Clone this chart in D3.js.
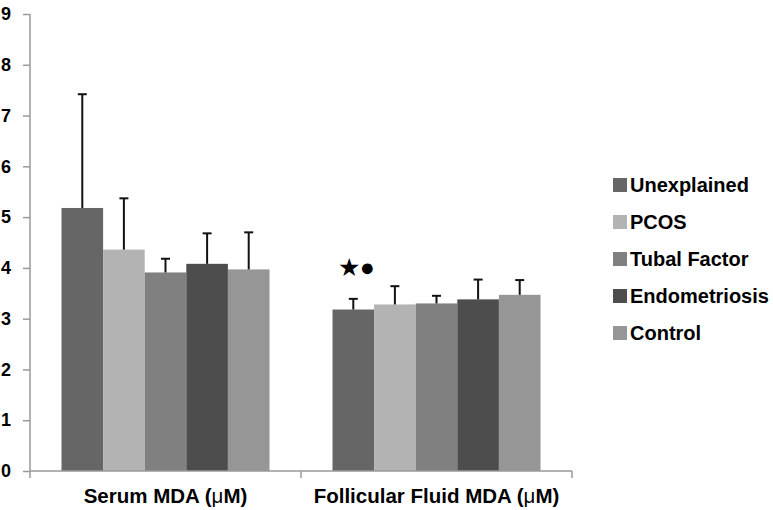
<!DOCTYPE html>
<html>
<head>
<meta charset="utf-8">
<script src="https://cdn.jsdelivr.net/npm/d3@7"></script>
<style>
  html, body { margin: 0; padding: 0; background: #fff; }
  svg { display: block; }
  text { font-family: "Liberation Sans", Arial, sans-serif; }
</style>
</head>
<body>
<svg id="chart" width="773" height="510"></svg>
<script>
const categories = ["Serum MDA", "Follicular Fluid MDA"];
const groups = ["Unexplained", "PCOS", "Tubal Factor", "Endometriosis", "Control"];
const colors = ["#666666", "#b3b3b3", "#808080", "#4d4d4d", "#969696"];
const means = [
  [5.18, 4.36, 3.91, 4.08, 3.97],
  [3.18, 3.28, 3.30, 3.38, 3.47]
];
const upperErr = [
  [7.42, 5.37, 4.18, 4.68, 4.70],
  [3.39, 3.64, 3.45, 3.77, 3.76]
];
const yTicks = [0, 1, 2, 3, 4, 5, 6, 7, 8, 9];

(function () {
const svg = d3.select("#chart");
const mLeft = 30, mRight = 572, mTop = 14, mBottom = 471;

const x0 = d3.scaleBand().domain(categories).range([mLeft, mRight]).paddingInner(0).paddingOuter(0);
const x1 = d3.scaleBand().domain(groups).range([0, x0.bandwidth()]).paddingOuter(0.757).paddingInner(0);
const y = d3.scaleLinear().domain([0, 9]).range([mBottom, mTop]);

// bars
categories.forEach((c, ci) => {
  const g = svg.append("g").attr("transform", `translate(${x0(c)},0)`);
  groups.forEach((gr, gi) => {
    g.append("rect")
      .attr("x", x1(gr))
      .attr("y", y(means[ci][gi]))
      .attr("width", x1.bandwidth())
      .attr("height", y(0) - y(means[ci][gi]))
      .attr("fill", colors[gi]);
    const cx = x1(gr) + x1.bandwidth() / 2;
    g.append("line")
      .attr("x1", cx).attr("x2", cx)
      .attr("y1", y(means[ci][gi])).attr("y2", y(upperErr[ci][gi]))
      .attr("stroke", "#111").attr("stroke-width", 2);
    g.append("line")
      .attr("x1", cx - 4.5).attr("x2", cx + 4.5)
      .attr("y1", y(upperErr[ci][gi])).attr("y2", y(upperErr[ci][gi]))
      .attr("stroke", "#111").attr("stroke-width", 2);
  });
});

// y axis
const yAxis = svg.append("g")
  .attr("transform", `translate(${mLeft},0)`)
  .call(d3.axisLeft(y).tickValues(yTicks).tickFormat(d3.format("d")).tickSize(7).tickPadding(12));
yAxis.select(".domain").attr("stroke", "#999").attr("stroke-width", 1.5).attr("d", `M0,${mTop}V${mBottom}`);
yAxis.selectAll(".tick line").attr("stroke", "#999").attr("stroke-width", 1.5);
yAxis.selectAll(".tick text")
  .attr("font-size", 18).attr("font-weight", "bold").attr("fill", "#000")
  .attr("font-family", "Liberation Sans, Arial, sans-serif");

// x axis
const xAxis = svg.append("g").attr("transform", `translate(0,${mBottom})`);
xAxis.append("line").attr("x1", mLeft).attr("x2", mRight).attr("y1", 0).attr("y2", 0)
  .attr("stroke", "#999").attr("stroke-width", 1.5);
const bounds = [mLeft].concat(categories.map(c => x0(c) + x0.bandwidth()));
bounds.forEach(b => {
  xAxis.append("line").attr("x1", b).attr("x2", b).attr("y1", 0).attr("y2", 7)
    .attr("stroke", "#999").attr("stroke-width", 1.5);
});
categories.forEach(c => {
  const t = xAxis.append("text")
    .attr("x", x0(c) + x0.bandwidth() / 2)
    .attr("y", 32)
    .attr("text-anchor", "middle")
    .attr("font-size", 20.5).attr("font-weight", "bold").attr("fill", "#000");
  t.append("tspan").text(c + " (");
  t.append("tspan").attr("font-weight", "normal").text("μ");
  t.append("tspan").text("M)");
});

// significance markers above Unexplained follicular bar
const fx = x0(categories[1]) + x1(groups[0]) + x1.bandwidth() / 2;
svg.append("text")
  .attr("x", fx + 3).attr("y", y(upperErr[1][0]) - 32)
  .attr("font-family", "DejaVu Sans, sans-serif")
  .attr("font-size", 25).attr("fill", "#000").attr("text-anchor", "middle")
  .attr("dominant-baseline", "central")
  .text("★●");

// legend
const legend = svg.append("g").attr("transform", "translate(613,185)");
groups.forEach((gr, i) => {
  const row = legend.append("g").attr("transform", `translate(0,${i * 37})`);
  row.append("rect").attr("x", 0).attr("y", -7).attr("width", 14).attr("height", 14).attr("fill", colors[i]);
  row.append("text").attr("x", 17).attr("y", 0).attr("dy", "0.36em")
    .attr("font-size", 20).attr("font-weight", "bold").attr("fill", "#000").text(gr);
});
})();
</script>
</body>
</html>
